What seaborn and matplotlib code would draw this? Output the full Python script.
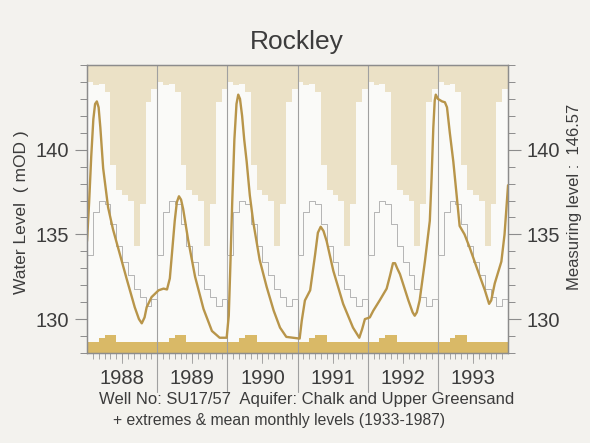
import numpy as np
import pandas as pd
import matplotlib
matplotlib.use("Agg")
import matplotlib.pyplot as plt
import matplotlib.transforms as mtransforms
import seaborn as sns

# ------------------------------------------------------------
# data
# ------------------------------------------------------------
years = [1988, 1989, 1990, 1991, 1992, 1993]

# long-term monthly levels 1933-1987 (Jan..Dec), mOD
max_monthly = [144.0, 143.8, 143.9, 143.4, 139.1, 137.6, 137.3, 137.0, 134.3, 136.8, 142.8, 143.6]
mean_monthly = [133.8, 136.3, 137.0, 136.8, 135.6, 134.3, 133.4, 132.6, 131.8, 131.3, 130.8, 131.2]
min_monthly = [128.62, 128.62, 128.9, 129.07, 129.07, 128.62, 128.62, 128.62, 128.62, 128.62, 128.62, 128.62]

# observed level 1988-1993
obs_time = [
    1988.00, 1988.03, 1988.06, 1988.09, 1988.115, 1988.14, 1988.165, 1988.19, 1988.23, 1988.30,
    1988.37, 1988.47, 1988.57, 1988.68, 1988.74, 1988.78, 1988.82, 1988.85, 1988.92, 1989.02,
    1989.09, 1989.14, 1989.18, 1989.21, 1989.25, 1989.28, 1989.31, 1989.34, 1989.37, 1989.44,
    1989.54, 1989.66, 1989.78, 1989.89, 1989.99, 1990.02, 1990.04, 1990.07, 1990.10, 1990.13,
    1990.155, 1990.18, 1990.21, 1990.24, 1990.275, 1990.32, 1990.37, 1990.46, 1990.56, 1990.66,
    1990.75, 1990.84, 1991.03, 1991.06, 1991.105, 1991.18, 1991.25, 1991.29, 1991.33, 1991.37,
    1991.415, 1991.51, 1991.65, 1991.79, 1991.88, 1991.92, 1991.96, 1992.03, 1992.08, 1992.17,
    1992.27, 1992.32, 1992.36, 1992.39, 1992.42, 1992.46, 1992.58, 1992.64, 1992.67, 1992.70,
    1992.74, 1992.815, 1992.885, 1992.91, 1992.935, 1992.955, 1992.97, 1993.00, 1993.06, 1993.10,
    1993.13, 1993.17, 1993.22, 1993.27, 1993.31, 1993.38, 1993.455, 1993.57, 1993.67, 1993.73,
    1993.76, 1993.81, 1993.905, 1993.95, 1994.00,
]
obs_level = [
    134.6, 136.9, 139.6, 141.8, 142.7, 142.85, 142.5, 141.3, 138.9, 136.6,
    135.3, 133.8, 132.3, 130.7, 130.0, 129.75, 130.1, 130.7, 131.3, 131.7,
    131.8, 131.75, 132.4, 133.85, 135.8, 136.9, 137.25, 137.05, 136.5, 134.7,
    132.5, 130.6, 129.3, 128.9, 128.9, 130.2, 132.8, 137.0, 140.6, 142.7,
    143.25, 143.0, 142.0, 140.6, 139.3, 137.3, 135.7, 133.5, 131.9, 130.5,
    129.5, 128.95, 128.85, 129.9, 131.1, 131.7, 133.8, 135.1, 135.45, 135.2,
    134.6, 132.85, 130.9, 129.5, 128.9, 129.4, 130.0, 130.1, 130.5, 131.1,
    131.8, 132.6, 133.3, 133.3, 133.0, 132.65, 131.1, 130.4, 130.2, 130.4,
    131.1, 133.4, 135.8, 138.3, 141.3, 142.9, 143.25, 143.0, 142.85, 142.8,
    142.5, 141.0, 139.3, 137.2, 135.5, 135.0, 134.2, 132.85, 131.7, 130.9,
    131.1, 132.1, 133.4, 135.0, 137.9,
]

# ------------------------------------------------------------
# style
# ------------------------------------------------------------
sns.set_theme(style="ticks")
plt.rcParams["font.family"] = ["Liberation Sans", "DejaVu Sans"]

TEXT = "#3c3c3c"
SPINE = "#8c8c8c"
TOP_FILL = "#ebe1c6"
LOW_FILL = "#d9b967"
CURVE = "#b8954a"
MEAN = "#b4b4b4"

# monthly step edges over the whole period
n_months = len(years) * 12
edges = years[0] + np.arange(n_months + 1) / 12.0
max_steps = np.append(np.tile(max_monthly, len(years)), max_monthly[0])
min_steps = np.append(np.tile(min_monthly, len(years)), min_monthly[0])
mean_steps = np.append(np.tile(mean_monthly, len(years)), mean_monthly[0])

obs = pd.DataFrame({"time": obs_time, "level": obs_level})

fig = plt.figure(figsize=(5.9, 4.43), dpi=100, facecolor="#f3f2ee")
ax = fig.add_axes([0.1475, 0.2032, 0.7136, 0.6501])
ax.set_facecolor("#fafaf8")
ax.set_xlim(years[0], years[-1] + 1)
ax.set_ylim(128, 145)

# extremes (areas outside the historical range) and mean monthly level
ax.fill_between(edges, max_steps, 145, step="post", color=TOP_FILL, lw=0)
ax.fill_between(edges, 128, min_steps, step="post", color=LOW_FILL, lw=0)
ax.step(edges, mean_steps, where="post", color=MEAN, lw=0.7)

# year separators, running down through the label band
trans = mtransforms.blended_transform_factory(ax.transData, ax.transAxes)
for yr in years[1:]:
    ax.plot([yr, yr], [-0.135, 1], transform=trans, color="#a0a0a0",
            lw=0.8, clip_on=False, zorder=1)
# longer mark at mid-year
for yr in years:
    ax.plot([yr + 0.5, yr + 0.5], [-0.035, 0], transform=trans, color="#999999",
            lw=0.6, clip_on=False)

# observed water level
sns.lineplot(data=obs, x="time", y="level", ax=ax, sort=False, estimator=None,
             color=CURVE, lw=1.7, zorder=5)

# axes, ticks
ax.set_xlabel("")
ax.set_ylabel("")
ax.set_xticks(years + [years[-1] + 1])
ax.set_xticklabels([])
ax.set_xticks(edges, minor=True)
ax.tick_params(axis="x", which="major", length=0)
ax.tick_params(axis="x", which="minor", length=4.5, width=0.6, color="#999999")

yticks_major = [130, 135, 140]
ax.set_yticks(yticks_major)
ax.set_yticks(np.arange(128, 146), minor=True)
ax.tick_params(axis="y", which="major", length=9, width=0.8, color=SPINE,
               labelsize=14.5, labelcolor=TEXT, pad=4)
ax.tick_params(axis="y", which="minor", length=5, width=0.7, color=SPINE)

ax2 = ax.twinx()
ax2.set_ylim(ax.get_ylim())
ax2.set_yticks(yticks_major)
ax2.set_yticks(np.arange(128, 146), minor=True)
ax2.tick_params(axis="y", which="major", length=9, width=0.8, color=SPINE,
                labelsize=14.5, labelcolor=TEXT, pad=4)
ax2.tick_params(axis="y", which="minor", length=5, width=0.7, color=SPINE)

for a in (ax, ax2):
    for s in a.spines.values():
        s.set_visible(True)
        s.set_color(SPINE)
        s.set_linewidth(0.9)

# year labels in the middle of each year
for yr in years:
    ax.text(yr + 0.5, -0.087, str(yr), transform=trans, ha="center", va="center",
            fontsize=14.5, color=TEXT)

fig.text(0.503, 0.905, "Rockley", ha="center", va="center", fontsize=19, color=TEXT)
fig.text(0.037, 0.521, "Water Level  ( mOD )", rotation=90, ha="center", va="center",
         fontsize=12.5, color=TEXT)
fig.text(0.973, 0.555, "Measuring level :  146.57", rotation=90, ha="center", va="center",
         fontsize=12, color=TEXT)
fig.text(0.519, 0.099, "Well No: SU17/57  Aquifer: Chalk and Upper Greensand",
         ha="center", va="center", fontsize=12, color=TEXT)
fig.text(0.1915, 0.05, "+ extremes & mean monthly levels (1933-1987)",
         ha="left", va="center", fontsize=11.3, color=TEXT)

fig.savefig("out.png", dpi=100, facecolor=fig.get_facecolor())
